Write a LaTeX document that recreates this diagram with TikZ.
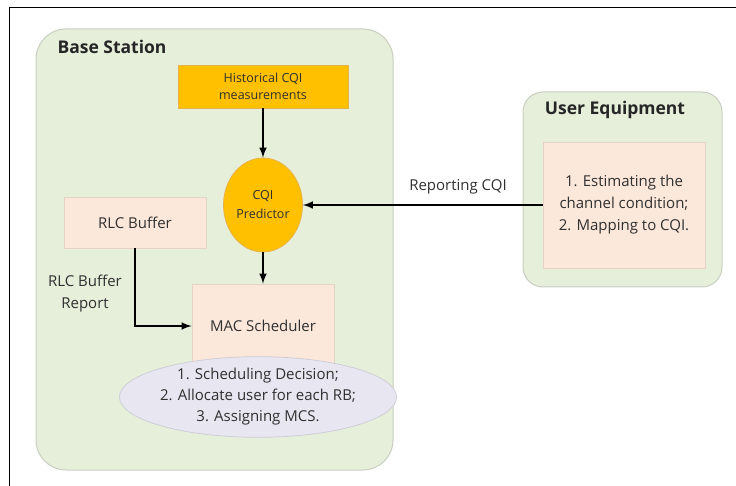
\documentclass[tikz,border=0pt]{standalone}
\usepackage{fontspec}
\setmainfont{Open Sans}
\usepackage{tikz}
\usetikzlibrary{shapes.geometric}
\usetikzlibrary{calc}
\definecolor{bsgreen}{HTML}{E6EFDA}
\definecolor{bsedge}{HTML}{C9CEC2}
\definecolor{cqiorange}{HTML}{FFC000}
\definecolor{cqiedge}{HTML}{E8B24A}
\definecolor{boxpink}{HTML}{FCE8DA}
\definecolor{boxedge}{HTML}{E6D3C6}
\definecolor{decgray}{HTML}{E8E6F0}
\definecolor{decedge}{HTML}{CFCED8}
\definecolor{txtgray}{HTML}{303030}
\tikzset{
  region/.style={fill=bsgreen,draw=bsedge,line width=1pt},
  title/.style={font=\bfseries\fontsize{17.5}{20}\selectfont,text=black!85},
  pinkbox/.style={rectangle,fill=boxpink,draw=boxedge,line width=0.8pt,inner sep=0pt,text=txtgray,align=center},
  orangebox/.style={fill=cqiorange,draw=cqiedge,line width=0.8pt,inner sep=0pt,text=txtgray,align=center},
  plain/.style={text=txtgray,align=center,font=\fontsize{15}{22}\selectfont},
  flow/.style={-latex,line width=2.4pt}
}
\begin{document}
\begin{tikzpicture}[x=1pt,y=-1pt]
\useasboundingbox (0,0) rectangle (736,486);
\draw[line width=1.3pt] (9.5,486) -- (9.5,7.5) -- (736,7.5);

\draw[region,rounded corners=30pt] (36,29) rectangle (393,470);
\draw[region,rounded corners=20pt] (523,92) rectangle (722,287);

\node[title] (bstitle) at (112,47) {Base Station};
\node[title] (uetitle) at (615,110) {User Equipment};

\node[orangebox,rectangle,minimum width=170pt,minimum height=43pt,font=\fontsize{12.5}{17}\selectfont] (hist) at (263,86.5) {Historical CQI\\measurements};
\node[orangebox,ellipse,minimum width=79pt,minimum height=94pt,font=\fontsize{12.5}{19}\selectfont] (pred) at (263,205) {CQI\\Predictor};
\node[pinkbox,minimum width=142pt,minimum height=51pt,font=\fontsize{15}{22}\selectfont] (rlc) at (135,222.5) {RLC Buffer};
\node[pinkbox,minimum width=142pt,minimum height=84pt,font=\fontsize{15}{22}\selectfont] (mac) at (263,326) {MAC Scheduler};
\node[ellipse,fill=decgray,draw=decedge,line width=0.8pt,inner sep=0pt,minimum width=249pt,minimum height=80pt,text=txtgray,align=center,font=\fontsize{15}{21}\selectfont] (decision) at (258,397) {1. Scheduling Decision;\\2. Allocate user for each RB;\\3. Assigning MCS.};
\node[pinkbox,minimum width=162pt,minimum height=126pt,font=\fontsize{15}{22}\selectfont] (estim) at (624,205) {1. Estimating the\\channel condition;\\2. Mapping to CQI.};

\node[plain] (rlcrep) at (85,294) {RLC Buffer\\Report};
\node[plain] (report) at (458,187) {Reporting CQI};

\draw[flow] (hist) -- (pred);
\draw[flow] (pred) -- (mac);
\draw[flow] (rlc.south) |- (mac.west);
\draw[flow] (estim.west) -- (pred.east);
\end{tikzpicture}
\end{document}
